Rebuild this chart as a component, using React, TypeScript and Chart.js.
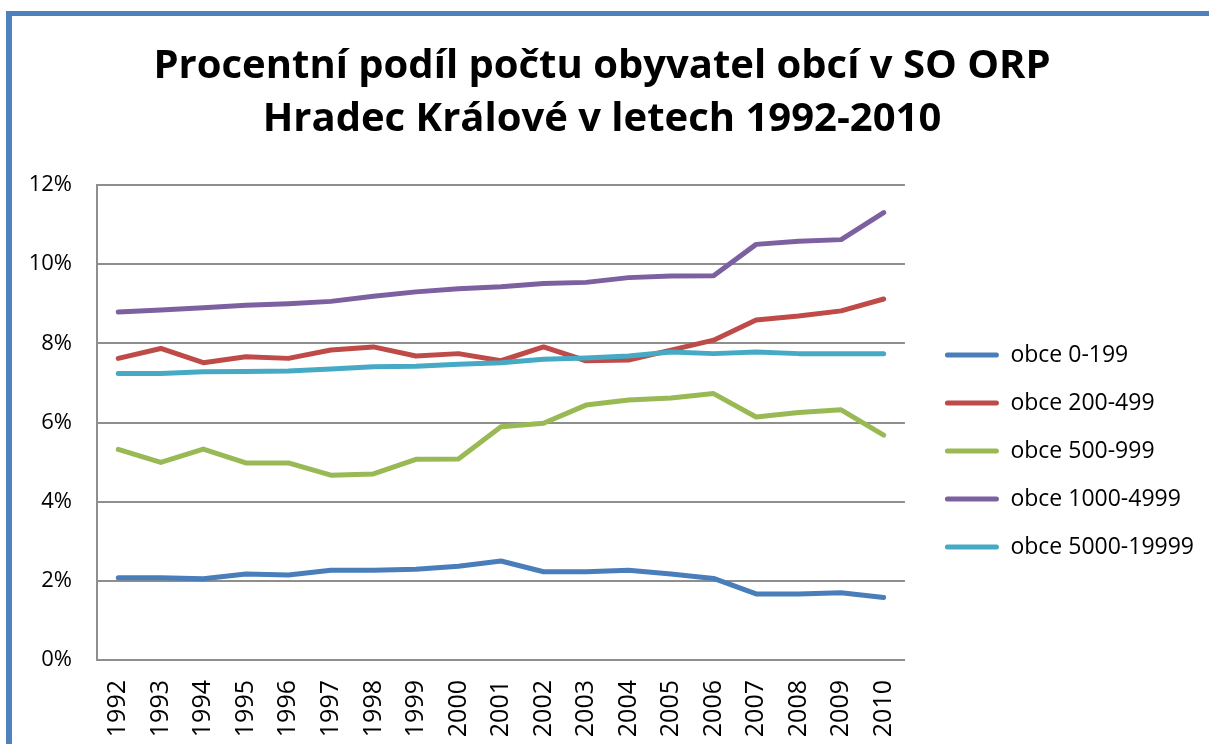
import React, { useEffect, useRef } from "react";
import { Chart, registerables } from "chart.js";

Chart.register(...registerables);

const years = ["1992","1993","1994","1995","1996","1997","1998","1999","2000","2001","2002","2003","2004","2005","2006","2007","2008","2009","2010"];

const obce0_199 = [2.08, 2.08, 2.05, 2.17, 2.15, 2.27, 2.27, 2.29, 2.37, 2.50, 2.23, 2.23, 2.27, 2.17, 2.06, 1.67, 1.67, 1.70, 1.58];
const obce200_499 = [7.62, 7.87, 7.51, 7.66, 7.62, 7.83, 7.91, 7.68, 7.74, 7.56, 7.91, 7.56, 7.58, 7.83, 8.08, 8.59, 8.69, 8.82, 9.12];
const obce500_999 = [5.32, 4.99, 5.33, 4.98, 4.98, 4.67, 4.70, 5.07, 5.08, 5.89, 5.98, 6.44, 6.57, 6.62, 6.73, 6.14, 6.25, 6.32, 5.68];
const obce1000_4999 = [8.79, 8.84, 8.90, 8.96, 9.00, 9.06, 9.19, 9.30, 9.38, 9.43, 9.51, 9.54, 9.66, 9.70, 9.71, 10.50, 10.58, 10.62, 11.30];
const obce5000_19999 = [7.24, 7.24, 7.28, 7.29, 7.30, 7.35, 7.41, 7.42, 7.47, 7.51, 7.60, 7.63, 7.68, 7.78, 7.74, 7.78, 7.74, 7.74, 7.74];

const seriesNames = ["obce 0-199", "obce 200-499", "obce 500-999", "obce 1000-4999", "obce 5000-19999"];
const seriesColors = ["#4A7EBB", "#BE4B48", "#98B954", "#7D60A0", "#46AAC5"];
const seriesData = [obce0_199, obce200_499, obce500_999, obce1000_4999, obce5000_19999];

const titleLines = ["Procentní podíl počtu obyvatel obcí v SO ORP", "Hradec Králové v letech 1992-2010"];
const yTicks = [0, 2, 4, 6, 8, 10, 12];

const FONT = "'Open Sans', 'Noto Sans', sans-serif";

export default function App() {
  const ref = useRef<HTMLCanvasElement | null>(null);

  useEffect(() => {
    if (!ref.current) return;
    const chart = new Chart(ref.current, {
      type: "line",
      data: {
        labels: years,
        datasets: seriesData.map((d, i) => ({
          label: seriesNames[i],
          data: d,
          borderColor: seriesColors[i],
          backgroundColor: seriesColors[i],
          borderWidth: 5,
          pointRadius: 0,
          pointHoverRadius: 0,
          tension: 0,
          borderCapStyle: "round" as const,
          borderJoinStyle: "round" as const,
          order: seriesData.length - i,
        })),
      },
      options: {
        responsive: false,
        animation: false,
        devicePixelRatio: 1,
        layout: { padding: { left: 0, right: 5, top: 0, bottom: 0 } },
        plugins: {
          tooltip: { enabled: false },
          title: {
            display: true,
            text: titleLines,
            color: "#000",
            font: { family: FONT, size: 40, weight: "bold", lineHeight: "53px" },
            padding: { top: 40, bottom: 39 },
          },
          legend: {
            display: true,
            position: "right",
            fullSize: false,
            align: "center",
            maxWidth: 400,
            title: { display: true, text: " ", font: { size: 12, lineHeight: "15px" }, padding: 21 },
            labels: {
              color: "#000",
              font: { family: FONT, size: 23 },
              boxWidth: 54,
              boxHeight: 5,
              padding: 25,
              useBorderRadius: true,
              borderRadius: 2.5,
              generateLabels: (c: any) => {
                const items = Chart.defaults.plugins.legend.labels.generateLabels(c);
                return items
                  .sort((a: any, b: any) => a.datasetIndex - b.datasetIndex)
                  .map((it: any) => ({ ...it, fillStyle: it.strokeStyle, lineWidth: 0 }));
              },
            },
          },
        },
        scales: {
          x: {
            type: "category",
            offset: true,
            grid: { display: false, drawTicks: false },
            border: { display: true, color: "#8e8e8e", width: 2 },
            ticks: {
              color: "#000",
              font: { family: FONT, size: 25 },
              minRotation: 90,
              maxRotation: 90,
              padding: 20,
              autoSkip: false,
            },
            afterFit: (s: any) => { s.height = 84; },
          },
          y: {
            type: "linear",
            min: 0,
            max: 12,
            afterBuildTicks: (s: any) => { s.ticks = yTicks.map((v) => ({ value: v })); },
            grid: { color: "#8e8e8e", lineWidth: 2, drawTicks: false },
            border: { display: true, color: "#8e8e8e", width: 2 },
            ticks: {
              color: "#000",
              font: { family: FONT, size: 22 },
              padding: 25,
              callback: (v: any) => v + "%",
            },
            afterFit: (s: any) => { s.width = 97; },
          },
          spacer: {
            type: "linear",
            position: "right",
            display: true,
            grid: { display: false, drawTicks: false },
            border: { display: false },
            ticks: { display: false },
            afterFit: (s: any) => { s.width = 15; },
          },
        },
      },
    });
    return () => chart.destroy();
  }, []);

  return (
    <div style={{ position: "absolute", left: 0, top: 0, width: 1209, height: 744, overflow: "hidden", background: "#fff" }}>
      <div
        style={{
          position: "absolute",
          left: 6,
          top: 11,
          width: 1300,
          height: 900,
          borderLeft: "6px solid #4F81BD",
          borderTop: "5px solid #4F81BD",
          boxSizing: "border-box",
        }}
      />
      <canvas ref={ref} width={1209} height={744} style={{ position: "absolute", left: 0, top: 0, width: 1209, height: 744 }} />
    </div>
  );
}
